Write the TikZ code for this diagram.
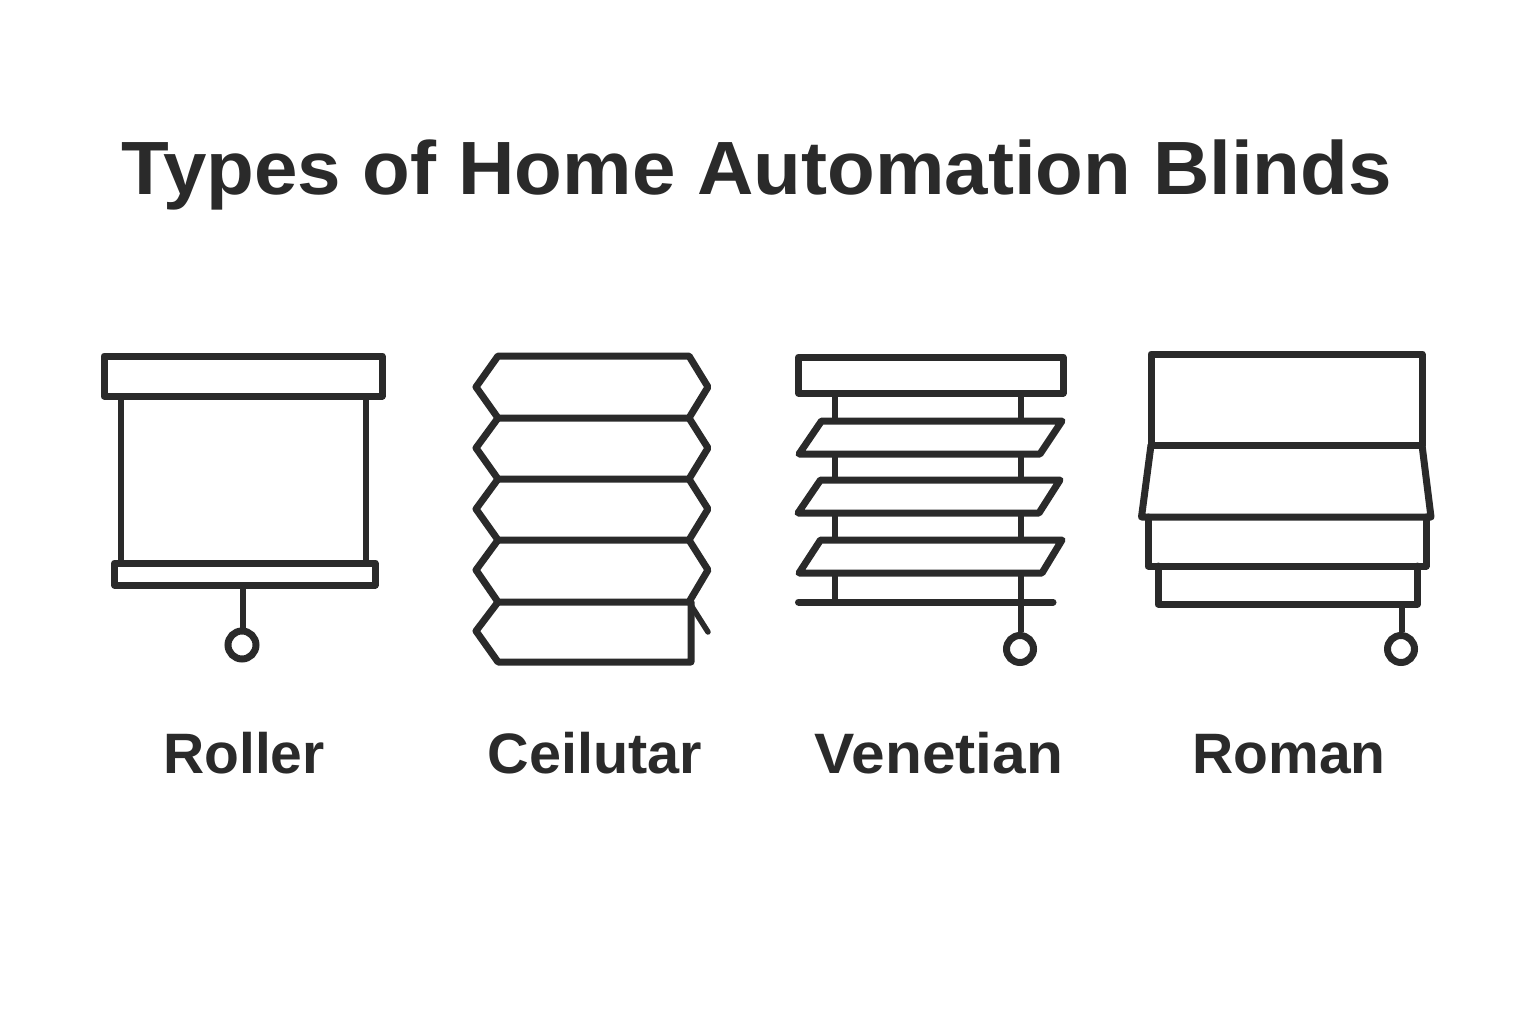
\documentclass[tikz,border=0pt]{standalone}
\usepackage{fontspec}
\setmainfont{Liberation Sans}
\definecolor{ink}{HTML}{2A2A2A}
\tikzset{
  icon/.style={draw=ink,line width=7pt,line join=round,line cap=round},
  thin line/.style={draw=ink,line width=6.4pt,line cap=butt},
  ring/.style={circle,draw=ink,line width=7pt,fill=white,minimum size=#1,inner sep=0pt},
  title text/.style={text=ink,anchor=base,font=\bfseries\fontsize{75.5}{90}\selectfont\addfontfeature{FakeStretch=1.035}},
  label text/.style={text=ink,anchor=base,font=\bfseries\fontsize{57}{66}\selectfont},
}
\begin{document}
\begin{tikzpicture}[x=1pt,y=-1pt]
\useasboundingbox[fill=white] (0,0) rectangle (1536,1024);
\node[title text] (title) at (756.5,195) {Types of Home Automation Blinds};
% Roller
\draw[thin line] (121,396) -- (121,563);
\draw[thin line] (366,396) -- (366,563);
\draw[icon] (104,356) rectangle (382,396);
\draw[icon] (114.5,563) rectangle (375,585);
\node[ring=28pt] (r1) at (242,645) {};
\coordinate (s1) at (243,585);
\draw[thin line] (s1) -- (s1 |- r1.north);
% Cellular
\draw[icon] (498,356) -- (689,356) -- (708,387) -- (689,418) -- (498,418) -- (476,387) -- cycle;
\draw[icon] (498,418) -- (476,448) -- (498,479) -- (689,479) -- (708,448) -- (689,418);
\draw[icon] (498,479) -- (476,509) -- (498,540) -- (689,540) -- (708,509) -- (689,479);
\draw[icon] (498,540) -- (476,570) -- (498,602) -- (689,602) -- (708,570) -- (689,540);
\draw[icon] (498,602) -- (476,631) -- (498,662) -- (691,662) -- (691,602);
\draw[icon,line width=5.5pt] (689,602) -- (708,632);
% Venetian
\draw[thin line] (835,393) -- (835,602);
\draw[thin line] (1021,393) -- (1021,602);
\draw[icon] (798.5,357) rectangle (1063,393);
\draw[icon,fill=white] (821.5,421) -- (1062,421) -- (1040,454) -- (799,454) -- cycle;
\draw[icon,fill=white] (820.5,480) -- (1060,480) -- (1039,513) -- (798,513) -- cycle;
\draw[icon,fill=white] (820.5,540) -- (1062,540) -- (1042,573) -- (799,573) -- cycle;
\draw[icon] (798.5,602) -- (1053,602);
\node[ring=27pt] (r3) at (1020,649) {};
\coordinate (s3) at (1021,602);
\draw[thin line] (s3) -- (s3 |- r3.north);
% Roman
\draw[icon] (1151,354) rectangle (1422,445);
\draw[icon] (1151,445) -- (1141.5,517) -- (1431,517) -- (1422,445);
\draw[icon] (1148,517) -- (1148,566) -- (1426,566) -- (1426,517);
\draw[icon] (1158,566) -- (1158,604) -- (1417.5,604) -- (1417.5,566);
\node[ring=27pt] (r4) at (1401,649) {};
\coordinate (s4) at (1402,604);
\draw[thin line] (s4) -- (s4 |- r4.north);
% Labels
\node[label text] (l1) at (244,773) {Roller};
\node[label text] (l2) at (595,773) {\addfontfeature{FakeStretch=1.01}Ceilutar};
\node[label text] (l3) at (939,773) {\addfontfeature{FakeStretch=1.06}Venetian};
\node[label text] (l4) at (1289,773) {Roman};
\end{tikzpicture}
\end{document}
